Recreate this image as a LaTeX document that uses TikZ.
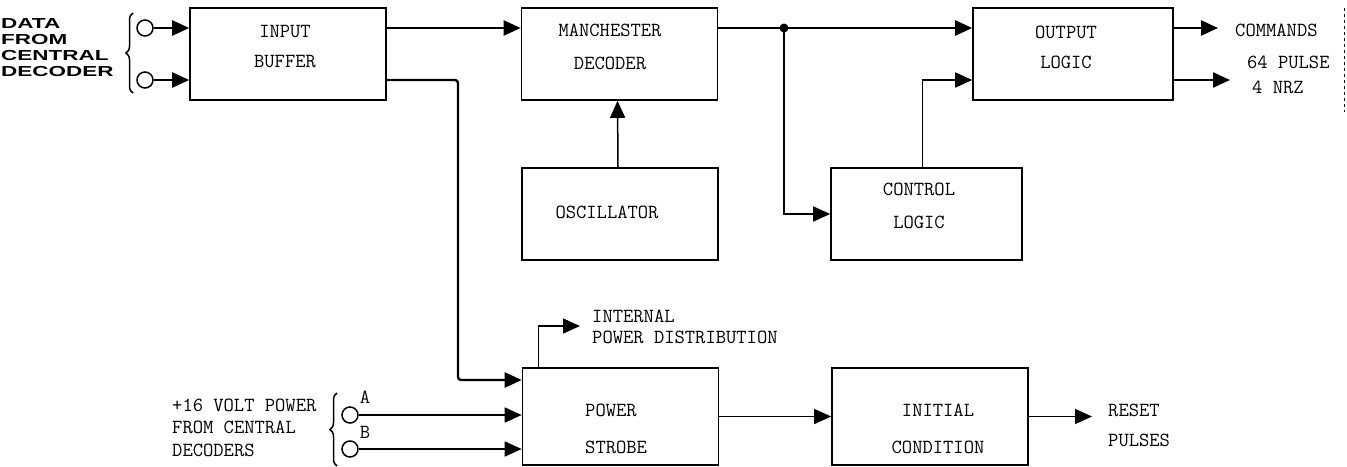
\documentclass[tikz,border=0pt]{standalone}
\usepackage{fontspec}
\usetikzlibrary{arrows.meta, calc, positioning, decorations.pathreplacing}
\newfontfamily\widefont[FakeStretch=1.55]{Liberation Sans}
\tikzstyle{block} = [draw, line width=1.6pt, minimum width=196pt, minimum height=92pt]
\tikzstyle{arrow} = [line width=1.5pt, -{Triangle[length=17pt,width=15pt]}]
\tikzstyle{bus} = [arrow, line width=2.4pt]
\tikzset{
  txt/.style  = {font=\ttfamily\fontsize{20}{21}\selectfont, inner sep=0pt},
  term/.style = {circle, draw, line width=1.5pt, minimum size=16pt, inner sep=0pt},
  brc/.style  = {decorate, decoration={brace, amplitude=7pt}, line width=1.5pt}
}

\begin{document}
\begin{tikzpicture}[x=1pt, y=-1pt]
            \useasboundingbox (0,0) rectangle (1347,466);

            % Blocks
            \node(inbuf) [block] at (288,54) {};
            \node(mdec) [block] at (619.5,54) {};
            \node(outl) [block, minimum width=200pt] at (1073,54) {};
            \node(osc) [block] at (620,214) {};
            \node(ctrl) [block, minimum width=191pt] at (926.5,214) {};
            \node(pstr) [block, minimum height=97pt] at (620.5,416.5) {};
            \node(init) [block, minimum height=97pt] at (930,416.5) {};

            % Block texts
            \node(inbuf-t) [txt, align=center] at (285,47) {INPUT\\[9pt]BUFFER};
            \node(mdec-t) [txt, align=center] at (610,46.5) {MANCHESTER\\[12pt]DECODER};
            \node(outl-t) [txt, align=center] at (1066,47) {OUTPUT\\[9pt]LOGIC};
            \node(osc-t) [txt] at (607,212) {OSCILLATOR};
            \node(ctrl-t) [txt, align=center] at (919,205.5) {CONTROL\\[12pt]LOGIC};
            \node(pstr-t) [txt, align=left, anchor=west] at (585,428.5) {POWER\\[16pt]STROBE};
            \node(init-t) [txt, align=center] at (938,428.5) {INITIAL\\[16pt]CONDITION};

            % Data from central decoder
            \node(in1) [term] at (145,28) {};
            \node(in2) [term] at (145,80) {};
            \foreach \t in {in1,in2} \draw[bus] (\t) -- (\t -| inbuf.west);
            \draw[brc] (133,93) -- (133,13);
            \node(data) [anchor=west, align=left, inner sep=0pt,
                font=\widefont\bfseries\fontsize{14.5}{16}\selectfont]
                at (1,48) {DATA\\FROM\\CENTRAL\\DECODER};

            % Decoder chain
            \coordinate (jn) at (784,28);
            \draw[bus] (inbuf.east |- in1) -- (mdec.west |- in1);
            \draw[bus] (mdec.east |- in1) -- (outl.west |- in1);
            \fill (jn) circle (4.5pt);
            \draw[arrow] (jn) |- (ctrl.west);
            \draw[arrow] ([xshift=-4pt]ctrl.north) |- (outl.west |- in2);
            \draw[arrow] ([xshift=-2pt]osc.north) -- ([xshift=-2pt]mdec.south);

            % Commands
            \coordinate (cmd1) at (1218,28);
            \coordinate (cmd2) at (1230,80);
            \foreach \c in {cmd1,cmd2} \draw[bus] (outl.east |- \c) -- (\c);
            \node(cmd-a) [txt, anchor=west] at (1235,30) {COMMANDS};
            \node(cmd-b) [txt, anchor=west] at (1247,62) {64 PULSE};
            \node(cmd-c) [txt, anchor=west] at (1252,87) {4 NRZ};
            \draw[line width=1pt, dash pattern=on 3pt off 3pt] (1344,8) -- (1344,112);

            % Power
            \coordinate (ps0) at (458,380);
            \draw[bus, rounded corners=3pt] (inbuf.east |- in2) -| (ps0) -- (ps0 -| pstr.west);
            \node(tA) [term] at (350,415) {};
            \node(tB) [term] at (350,449) {};
            \foreach \t in {tA,tB} \draw[arrow] (\t) -- (\t -| pstr.west);
            \node(lA) [txt] at (365,397) {A};
            \node(lB) [txt] at (365,432) {B};
            \draw[brc] (337,466) -- (337,393);
            \node(pwr) [txt, anchor=west, align=left] at (172,427.5)
                {+16 VOLT POWER\\[1.5pt]FROM CENTRAL\\[1.5pt]DECODERS};

            \coordinate (ipd) at (580,326);
            \draw[arrow] ([xshift=-82pt]pstr.north) |- (ipd);
            \node(ipd-t) [txt, anchor=west, align=left] at (592,326.5) {INTERNAL\\POWER DISTRIBUTION};

            % Reset
            \draw[arrow] (pstr) -- (init);
            \coordinate (rst) at (1092,416.5);
            \draw[arrow] (init) -- (rst);
            \node(rst-t) [txt, anchor=west, align=left] at (1108,425) {RESET\\[9pt]PULSES};
\end{tikzpicture}
\end{document}
